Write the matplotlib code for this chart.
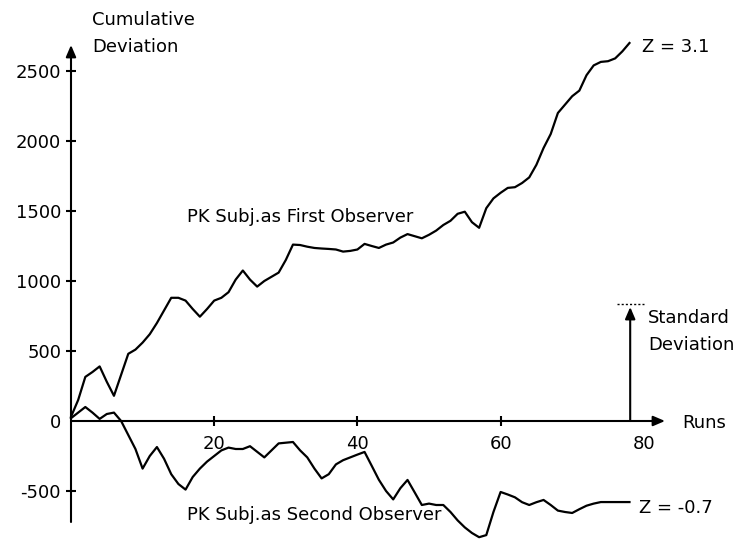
import matplotlib
matplotlib.use("Agg")
import matplotlib.pyplot as plt

# ---------------- data ----------------
runs = list(range(0, 79))
first_observer = [30, 150, 315, 350, 390, 280, 180, 330, 480, 510,
                  560, 620, 700, 790, 880, 880, 860, 800, 745, 800,
                  860, 880, 920, 1010, 1075, 1010, 960, 1000, 1030, 1060,
                  1150, 1260, 1257, 1245, 1236, 1232, 1229, 1225, 1210, 1215,
                  1225, 1265, 1250, 1236, 1260, 1275, 1310, 1335, 1320, 1305,
                  1330, 1360, 1400, 1430, 1480, 1495, 1420, 1380, 1520, 1590,
                  1630, 1665, 1670, 1700, 1740, 1830, 1950, 2050, 2200, 2260,
                  2320, 2360, 2470, 2540, 2565, 2570, 2590, 2640, 2700]
second_observer = [20, 60, 100, 60, 15, 50, 60, 0, -100, -200,
                   -340, -250, -186, -270, -380, -450, -490, -400, -340, -290,
                   -250, -210, -190, -200, -200, -180, -220, -260, -210, -160,
                   -155, -150, -210, -260, -340, -410, -380, -310, -280, -260,
                   -240, -221, -320, -420, -500, -560, -480, -421, -510, -600,
                   -590, -600, -600, -650, -710, -760, -800, -830, -815, -650,
                   -507, -525, -545, -580, -600, -580, -564, -600, -640, -650,
                   -657, -630, -605, -590, -579, -579, -579, -579, -579]
y_ticks = [-500, 0, 500, 1000, 1500, 2000, 2500]
y_tick_labels = ["-500", "0", "500", "1000", "1500", "2000", "2500"]
x_ticks = [20, 40, 60, 80]
x_tick_labels = ["20", "40", "60", "80"]
std_run = 78.1
std_dev = 814

# ---------------- layout ----------------
W, H = 740, 539
X0, Y0 = 71, 421        # pixel of origin
SX, SY = 7.16, 0.14     # pixels per run / per unit

plt.rcParams['font.family'] = ['DejaVu Sans']
fig = plt.figure(figsize=(W / 100, H / 100), dpi=100)
ax = fig.add_axes([0, 0, 1, 1])
ax.set_xlim(-X0 / SX, (W - X0) / SX)
ax.set_ylim(-(H - Y0) / SY, Y0 / SY)
ax.patch.set_visible(False)

for s in ("top", "right"):
    ax.spines[s].set_visible(False)
ax.spines["left"].set_position(("data", 0))
ax.spines["bottom"].set_position(("data", 0))
ax.spines["left"].set_visible(False)
ax.spines["bottom"].set_visible(False)

FS = 13
ax.set_yticks(y_ticks)
ax.set_yticklabels(y_tick_labels)
ax.set_xticks(x_ticks)
ax.set_xticklabels(x_tick_labels)
ax.tick_params(axis="y", direction="inout", length=7.9, width=1.5, pad=3.2,
               labelsize=FS)
ax.tick_params(axis="x", direction="inout", length=7.9, width=1.5, pad=6.1,
               labelsize=FS)
ax.yaxis.get_major_ticks()[1].tick1line.set_visible(False)
ax.xaxis.get_major_ticks()[3].tick1line.set_visible(False)

arrow = dict(arrowstyle="-|>,head_length=0.7,head_width=0.3", lw=1.5,
             color="black", shrinkA=0, shrinkB=0, mutation_scale=10)
ax.annotate("", xy=(0, (Y0 - 45) / SY), xytext=(0, -(522 - Y0) / SY),
            arrowprops=arrow, annotation_clip=False)
ax.annotate("", xy=((665 - X0) / SX, 0), xytext=(0, 0),
            arrowprops=arrow, annotation_clip=False)

# data lines
ax.plot(runs, first_observer, color="black", lw=1.6, clip_on=False)
ax.plot(runs, second_observer, color="black", lw=1.6, clip_on=False)

# standard deviation bar
ax.annotate("", xy=(std_run, std_dev), xytext=(std_run, 0),
            arrowprops=arrow, annotation_clip=False)
ax.plot([std_run - 1.8, std_run + 1.9], [std_dev + 22, std_dev + 22],
        color="black", lw=1.0, ls=(0, (1.5, 1.5)))


def ftext(px, py, s, **kw):
    fig.text(px / W, 1 - py / H, s, fontsize=FS, va="baseline", ha="left", **kw)


ftext(92, 25, "Cumulative")
ftext(92, 52, "Deviation")
ftext(187, 222, "PK Subj.as First Observer")
ftext(187, 520, "PK Subj.as Second Observer")
ftext(642, 52, "Z = 3.1")
ftext(639, 513, "Z = -0.7")
ftext(648, 323, "Standard")
ftext(648, 350, "Deviation")
ftext(682, 428, "Runs")

fig.savefig("out.png", dpi=100)
